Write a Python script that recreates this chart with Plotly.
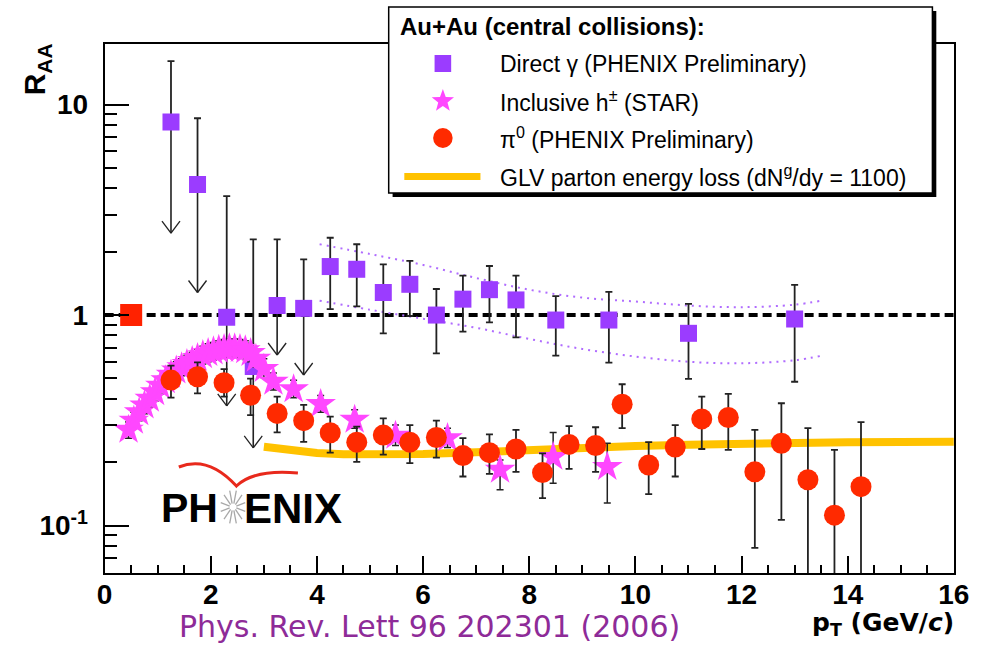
import numpy as np
import plotly.graph_objects as go

# ---- Direct photons (PHENIX preliminary) ----
gamma_pt = [1.25, 1.75, 2.3, 2.8, 3.25, 3.75, 4.25, 4.75, 5.25, 5.75, 6.25, 6.75, 7.25, 7.75, 8.5, 9.5, 11.0, 13.0]
gamma_raa = [8.27, 4.17, 0.975, 0.57, 1.11, 1.076, 1.70, 1.65, 1.28, 1.40, 1.0, 1.19, 1.32, 1.18, 0.947, 0.947, 0.819, 0.957]
gamma_hi = [16.1, 8.61, 3.67, 2.29, 2.29, 1.84, 2.33, 2.17, 1.74, 1.81, 1.33, 1.54, 1.71, 1.54, 1.23, 1.29, 1.13, 1.39]
gamma_lo = [2.45, 1.28, 0.37, 0.234, 0.646, 0.519, 1.068, 1.10, 0.819, 0.99, 0.658, 0.834, 0.923, 0.783, 0.641, 0.594, 0.497, 0.482]
gamma_limit = [True, True, True, True, True, True] + [False] * 12

# systematic band of the direct photon measurement
sys_pt = [4.05, 5.0, 6.0, 7.0, 8.0, 9.0, 10.0, 11.0, 12.0, 13.0, 13.5]
sys_hi = [2.17, 1.95, 1.73, 1.50, 1.32, 1.21, 1.16, 1.11, 1.09, 1.12, 1.17]
sys_lo = [1.17, 1.06, 0.96, 0.87, 0.77, 0.69, 0.635, 0.60, 0.59, 0.61, 0.64]

# ---- Inclusive charged hadrons (STAR) ----
h_pt = [0.45, 0.55, 0.65, 0.75, 0.85, 0.95, 1.05, 1.15, 1.25, 1.35, 1.45, 1.55, 1.65, 1.75,
        1.85, 1.95, 2.05, 2.15, 2.25, 2.35, 2.45, 2.55, 2.65, 2.75, 2.85, 3.0, 3.18, 3.56,
        4.07, 4.71, 5.48, 6.46, 7.45, 8.45, 9.47]
h_raa = [0.285, 0.315, 0.345, 0.372, 0.40, 0.43, 0.462, 0.49, 0.52, 0.545, 0.565, 0.585, 0.605, 0.625,
         0.645, 0.66, 0.672, 0.683, 0.69, 0.695, 0.695, 0.69, 0.68, 0.66, 0.62, 0.555, 0.482, 0.444,
         0.378, 0.318, 0.267, 0.26, 0.184, 0.212, 0.19]
h_hi = [0.31, 0.345, 0.38, 0.41, 0.44, 0.47, 0.51, 0.54, 0.57, 0.60, 0.62, 0.645, 0.665, 0.69,
        0.71, 0.73, 0.74, 0.755, 0.765, 0.77, 0.77, 0.765, 0.755, 0.735, 0.69, 0.62, 0.53, 0.49,
        0.415, 0.355, 0.30, 0.29, 0.205, 0.277, 0.246]
h_lo = [0.26, 0.29, 0.315, 0.34, 0.365, 0.39, 0.42, 0.445, 0.47, 0.495, 0.515, 0.53, 0.55, 0.565,
        0.585, 0.60, 0.61, 0.62, 0.625, 0.63, 0.63, 0.625, 0.615, 0.60, 0.565, 0.505, 0.44, 0.405,
        0.345, 0.29, 0.24, 0.235, 0.148, 0.159, 0.128]

# ---- Neutral pions (PHENIX preliminary) ----
pi0_pt = [1.25, 1.75, 2.25, 2.75, 3.25, 3.75, 4.25, 4.75, 5.25, 5.75, 6.25, 6.75, 7.25, 7.75,
          8.25, 8.75, 9.25, 9.75, 10.25, 10.75, 11.25, 11.75, 12.25, 12.75, 13.25, 13.75, 14.25]
pi0_raa = [0.491, 0.509, 0.477, 0.416, 0.341, 0.315, 0.276, 0.249, 0.269, 0.249, 0.262, 0.215, 0.222, 0.231,
           0.1785, 0.243, 0.24, 0.377, 0.194, 0.236, 0.321, 0.326, 0.180, 0.246, 0.165, 0.112, 0.153]
pi0_hi = [0.575, 0.596, 0.553, 0.499, 0.41, 0.374, 0.329, 0.295, 0.323, 0.30, 0.315, 0.26, 0.271, 0.285,
          0.220, 0.297, 0.293, 0.469, 0.249, 0.30, 0.41, 0.422, 0.285, 0.381, 0.29, 0.229, 0.31]
pi0_lo = [0.405, 0.425, 0.41, 0.335, 0.277, 0.250, 0.222, 0.2005, 0.217, 0.198, 0.21, 0.171, 0.176, 0.180,
          0.135, 0.186, 0.180, 0.290, 0.141, 0.171, 0.231, 0.229, 0.0784, 0.1064, 0.04, 0.04, 0.04]

# ---- GLV parton energy loss calculation ----
glv_pt = [3.0, 3.5, 4.0, 4.5, 5.0, 6.0, 7.0, 8.0, 9.0, 10.0, 11.0, 12.0, 13.0, 14.0, 16.0]
glv_raa = [0.237, 0.228, 0.221, 0.218, 0.217, 0.219, 0.223, 0.229, 0.235, 0.239, 0.242, 0.245, 0.247, 0.249, 0.25]

# normalisation point and R_AA = 1 reference
ref_pt = [0.5]
ref_raa = [1.0]
unity_pt = [0.0, 16.0]
unity_raa = [1.0, 1.0]

x_ticks = [0, 2, 4, 6, 8, 10, 12, 14, 16]
y_ticks = [0.1, 1, 10]
y_ticktext = ["10<sup>-1</sup>", "1", "10"]
y_minor = [0.07, 0.08, 0.09, 0.2, 0.3, 0.4, 0.5, 0.6, 0.7, 0.8, 0.9, 2, 3, 4, 5, 6, 7, 8, 9]

# ---- page geometry (pixels) ----
W, H = 1006, 645
PL, PR, PT, PB = 99, 969, 44, 573


def fx(x):
    return x / W


def fy(y):
    return 1 - y / H


FONT = "Liberation Sans"
WIDE = "DejaVu Sans"
ERR = "#222222"
PURPLE = "#9b3cff"
PINK = "#ff47ff"
RED = "#ff2a00"
GOLD = "#ffc200"

fig = go.Figure()

fig.add_trace(go.Scatter(x=unity_pt, y=unity_raa, mode="lines",
                         line=dict(color="black", width=4, dash="9px,5px")))

for band in (sys_hi, sys_lo):
    fig.add_trace(go.Scatter(x=sys_pt, y=band, mode="lines",
                             line=dict(color="#b06cff", width=2, dash="2px,5px", shape="spline")))

fig.add_trace(go.Scatter(x=glv_pt, y=glv_raa, mode="lines", line=dict(color=GOLD, width=8)))

# stems of the upper-limit points (no caps; the arrow heads are added below)
lim_pt = [p for p, lim in zip(gamma_pt, gamma_limit) if lim]
lim_raa = [v for v, lim in zip(gamma_raa, gamma_limit) if lim]
lim_lo = [l for l, lim in zip(gamma_lo, gamma_limit) if lim]
fig.add_trace(go.Scatter(
    x=lim_pt, y=lim_raa, mode="markers", marker=dict(size=1, opacity=0),
    error_y=dict(type="data", symmetric=False, array=[0] * len(lim_pt),
                 arrayminus=[v - l for v, l in zip(lim_raa, lim_lo)],
                 color=ERR, thickness=1.6, width=0)))

g_up = [h - v for h, v in zip(gamma_hi, gamma_raa)]
g_dn = [0 if lim else v - l for v, l, lim in zip(gamma_raa, gamma_lo, gamma_limit)]
fig.add_trace(go.Scatter(
    x=gamma_pt, y=gamma_raa, mode="markers",
    marker=dict(symbol="square", size=17, color=PURPLE, line=dict(width=0)),
    error_y=dict(type="data", symmetric=False, array=g_up, arrayminus=g_dn,
                 color=ERR, thickness=1.8, width=3.5)))

fig.add_trace(go.Scatter(
    x=h_pt, y=h_raa, mode="markers",
    marker=dict(symbol="star", size=23, color=PINK, line=dict(width=0)),
    error_y=dict(type="data", symmetric=False,
                 array=[h - v for h, v in zip(h_hi, h_raa)],
                 arrayminus=[v - l for v, l in zip(h_raa, h_lo)],
                 color=ERR, thickness=1.5, width=3.5)))

fig.add_trace(go.Scatter(
    x=pi0_pt, y=pi0_raa, mode="markers",
    marker=dict(symbol="circle", size=21, color=RED, line=dict(width=0)),
    error_y=dict(type="data", symmetric=False,
                 array=[h - v for h, v in zip(pi0_hi, pi0_raa)],
                 arrayminus=[v - l for v, l in zip(pi0_raa, pi0_lo)],
                 color=ERR, thickness=1.8, width=3.5)))

fig.add_trace(go.Scatter(x=ref_pt, y=ref_raa, mode="markers",
                         marker=dict(symbol="square", size=22, color="#ff2200", line=dict(width=0))))

shapes = []
# open arrow heads at the tips of the upper limits (fixed pixel size, anchored to the data)
for x, lo in zip(lim_pt, lim_lo):
    for side in (-1, 1):
        shapes.append(dict(type="line", xref="x", yref="y", xsizemode="pixel", ysizemode="pixel",
                           xanchor=x, yanchor=lo, x0=0, y0=0, x1=9 * side, y1=12,
                           line=dict(color=ERR, width=1.3), layer="above"))

annotations = []
# axis titles and reference
annotations.append(dict(x=fx(29), y=fy(69), xref="paper", yref="paper", text="<b>R<sub>AA</sub></b>",
                        textangle=-90, showarrow=False, xanchor="center", yanchor="middle",
                        font=dict(family=FONT, size=30, color="black")))
annotations.append(dict(x=fx(971), y=fy(624), xref="paper", yref="paper",
                        text="<b>p<sub>T</sub> (GeV/<i>c</i>)</b>", showarrow=False,
                        xanchor="right", yanchor="middle", font=dict(family=WIDE, size=25, color="black")))
annotations.append(dict(x=fx(432), y=fy(626), xref="paper", yref="paper",
                        text="Phys. Rev. Lett 96 202301 (2006)", showarrow=False,
                        xanchor="center", yanchor="middle", font=dict(family=WIDE, size=30, color="#8e2b98")))

# PHENIX logo text
annotations.append(dict(x=fx(217), y=fy(508), xref="paper", yref="paper", text="<b>PH</b>",
                        showarrow=False, xanchor="right", yanchor="middle",
                        font=dict(family=FONT, size=41, color="black")))
annotations.append(dict(x=fx(240), y=fy(508), xref="paper", yref="paper", text="<b>ENIX</b>",
                        showarrow=False, xanchor="left", yanchor="middle",
                        font=dict(family=FONT, size=42, color="black")))

# legend texts
LX_TEXT = 502
annotations.append(dict(x=fx(400), y=fy(26), xref="paper", yref="paper",
                        text="<b>Au+Au (central collisions):</b>", showarrow=False,
                        xanchor="left", yanchor="middle", font=dict(family=FONT, size=24, color="black")))
legend_rows = [
    (63.5, "Direct \u03b3 (PHENIX Preliminary)"),
    (100.5, "Inclusive h<sup>\u00b1</sup> (STAR)"),
    (138, "\u03c0<sup>0</sup> (PHENIX Preliminary)"),
    (176.5, "GLV parton energy loss (dN<sup>g</sup>/dy = 1100)"),
]
for yy, txt in legend_rows:
    annotations.append(dict(x=fx(LX_TEXT), y=fy(yy), xref="paper", yref="paper", text=txt,
                            showarrow=False, xanchor="left", yanchor="middle",
                            font=dict(family=FONT, size=23, color="black")))

# legend frame with drop shadow
shapes.append(dict(type="rect", xref="paper", yref="paper", x0=fx(394), x1=fx(951), y0=fy(11), y1=fy(197),
                   fillcolor="black", line=dict(width=0), layer="above"))
shapes.append(dict(type="rect", xref="paper", yref="paper", x0=fx(390), x1=fx(947), y0=fy(7), y1=fy(193),
                   fillcolor="white", line=dict(color="black", width=1.5), layer="above"))
# legend keys
kx = 445.5
shapes.append(dict(type="rect", xref="paper", yref="paper", x0=fx(kx - 8.5), x1=fx(kx + 8.5),
                   y0=fy(63.5 - 8.5), y1=fy(63.5 + 8.5), fillcolor=PURPLE, line=dict(width=0), layer="above"))
star = []
for k in range(10):
    r = 12 if k % 2 == 0 else 5
    a = -np.pi / 2 + k * np.pi / 5
    star.append((kx + r * np.cos(a), 101 + r * np.sin(a)))
path = "M" + " L".join(f"{fx(a):.5f},{fy(b):.5f}" for a, b in star) + " Z"
shapes.append(dict(type="path", xref="paper", yref="paper", path=path, fillcolor=PINK,
                   line=dict(width=0), layer="above"))
shapes.append(dict(type="circle", xref="paper", yref="paper", x0=fx(kx - 10), x1=fx(kx + 10),
                   y0=fy(138 - 10), y1=fy(138 + 10), fillcolor=RED, line=dict(width=0), layer="above"))
shapes.append(dict(type="line", xref="paper", yref="paper", x0=fx(406), x1=fx(484),
                   y0=fy(176.5), y1=fy(176.5), line=dict(color=GOLD, width=7), layer="above"))

# PHENIX logo: red wing and grey starburst
wing = (f"M{fx(175)},{fy(467)} Q{fx(205)},{fy(455)} {fx(234)},{fy(486)} "
        f"Q{fx(252)},{fy(469)} {fx(297)},{fy(473)}")
shapes.append(dict(type="path", xref="paper", yref="paper", path=wing,
                   line=dict(color="#e8291c", width=3), layer="above"))
cx, cy = 230.5, 507
for k in range(12):
    a = k * np.pi / 6 + np.pi / 12
    shapes.append(dict(type="line", xref="paper", yref="paper",
                       x0=fx(cx + 3.5 * np.cos(a)), y0=fy(cy + 3.5 * np.sin(a)),
                       x1=fx(cx + 13 * np.cos(a)), y1=fy(cy + 17 * np.sin(a)),
                       line=dict(color="#a8a8a8", width=1.3), layer="above"))

fig.update_layout(
    width=W, height=H, margin=dict(l=0, r=0, t=0, b=0),
    paper_bgcolor="white", plot_bgcolor="white", showlegend=False,
    annotations=annotations, shapes=shapes,
    xaxis=dict(domain=[fx(PL), fx(PR)], range=[0, 16], tickvals=x_ticks,
               ticks="inside", ticklen=17, tickwidth=1.5, tickcolor="black",
               minor=dict(dtick=0.5, ticks="inside", ticklen=8, tickwidth=1.5, tickcolor="black"),
               showline=True, linewidth=2, linecolor="black", mirror=True,
               showgrid=False, zeroline=False, ticklabelstandoff=-5,
               tickfont=dict(family=FONT, size=28, color="black", weight="bold")),
    yaxis=dict(domain=[fy(PB), fy(PT)], type="log", range=[np.log10(0.0595), np.log10(19.4)],
               tickvals=y_ticks, ticktext=y_ticktext,
               ticks="inside", ticklen=24, tickwidth=1.5, tickcolor="black",
               minor=dict(tickvals=y_minor, ticks="inside", ticklen=12, tickwidth=1.5, tickcolor="black"),
               showline=True, linewidth=2, linecolor="black", mirror=True,
               showgrid=False, zeroline=False, ticklabelstandoff=9,
               tickfont=dict(family=FONT, size=28, color="black", weight="bold")),
)

fig.write_html("out.html")
